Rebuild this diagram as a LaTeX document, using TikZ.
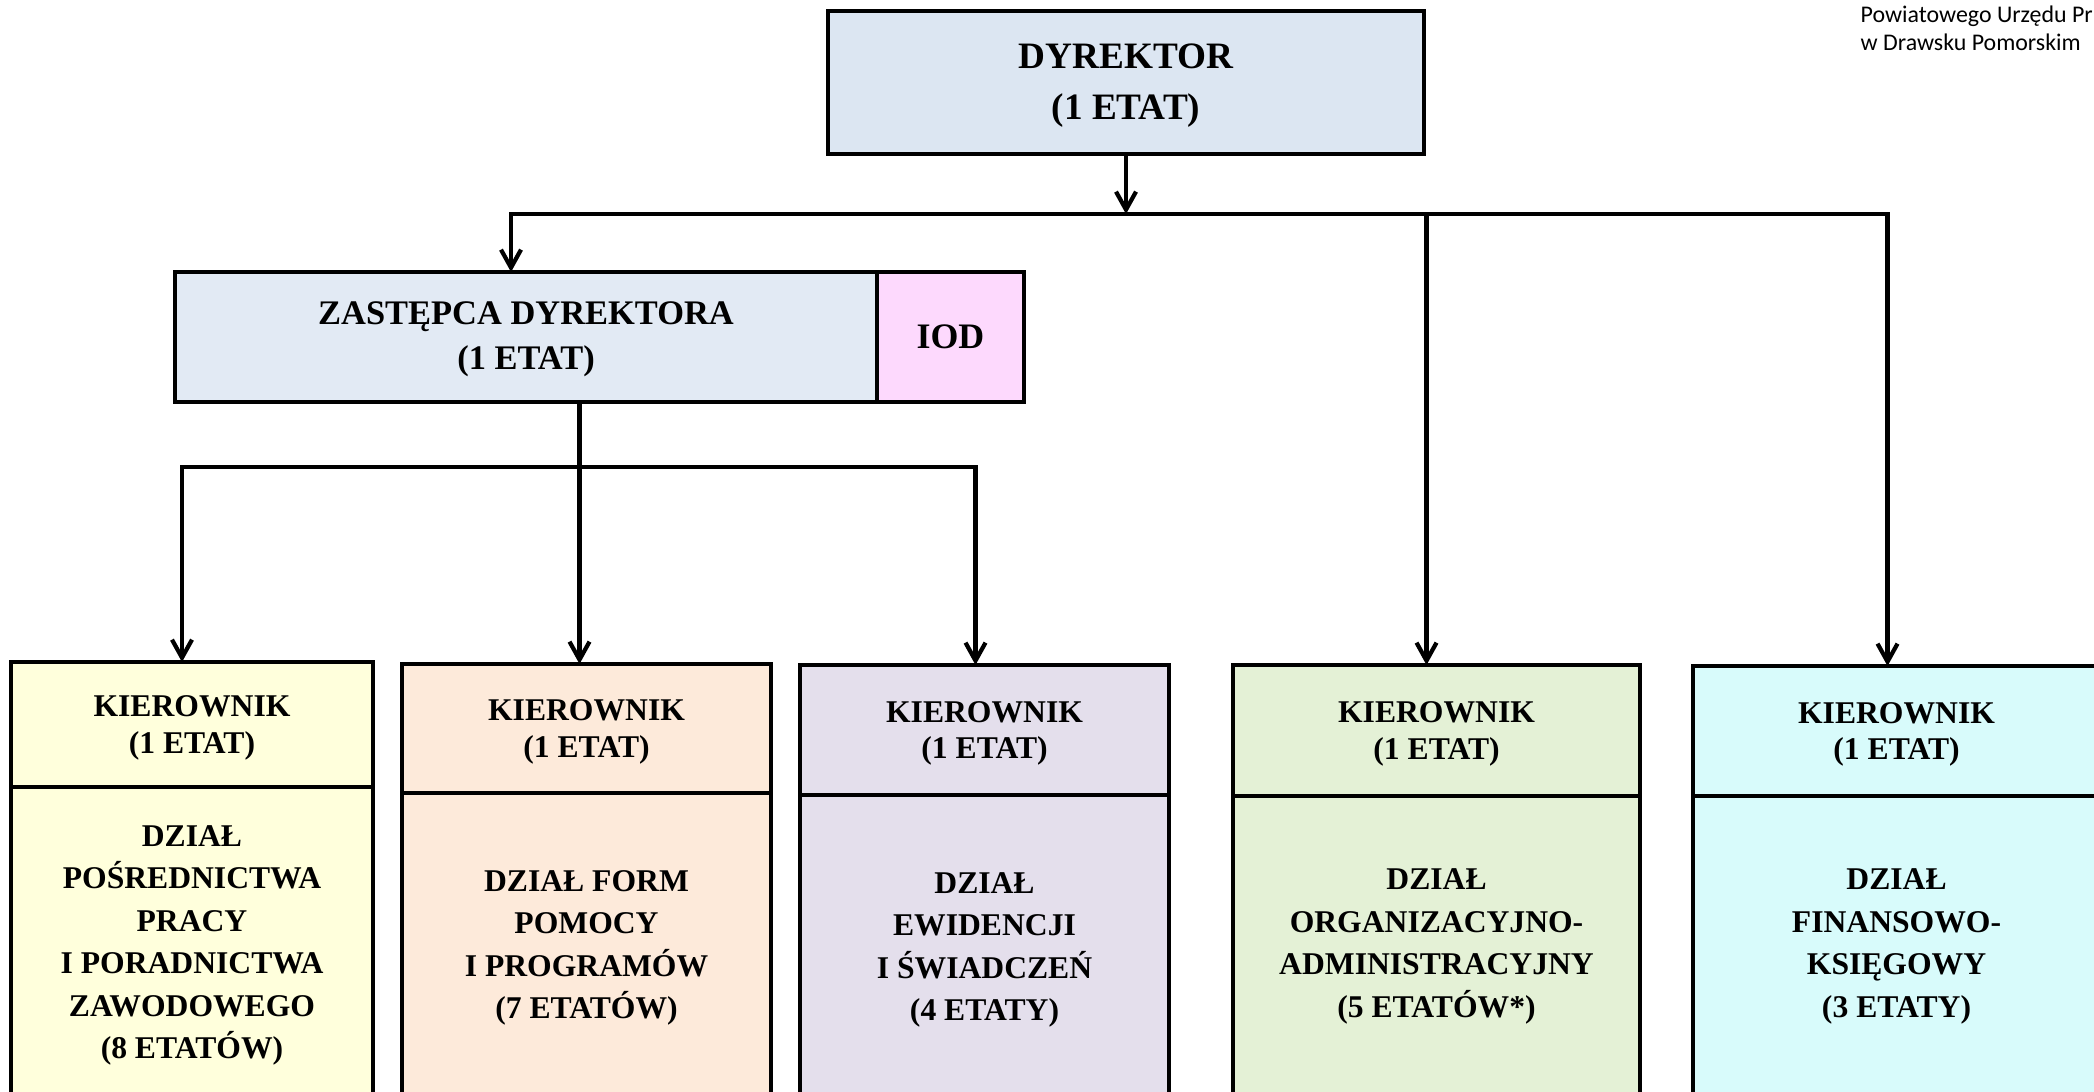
\documentclass[tikz,border=0pt]{standalone}
\usepackage{fontspec}
\setmainfont{Liberation Serif}
\newfontfamily\calibri{Carlito}
\usepackage{xcolor}
\usepackage{tikz}
\usetikzlibrary{arrows.meta, calc, positioning}

\definecolor{dyrkolor}{HTML}{DCE6F2}
\definecolor{zastkolor}{HTML}{E2EAF4}
\definecolor{iodkolor}{HTML}{FDD9FD}
\definecolor{zolty}{HTML}{FFFFDC}
\definecolor{brzoskwinia}{HTML}{FDEADA}
\definecolor{lawenda}{HTML}{E4DFEC}
\definecolor{zielony}{HTML}{E4F1D6}
\definecolor{turkus}{HTML}{D8FBFB}

\tikzstyle{ramka} = [rectangle, draw=black, line width=1.2pt, outer sep=0pt, inner sep=0pt, anchor=north west, align=center]
\tikzstyle{naglowek} = [ramka, text depth=-0.05cm, font=\fontsize{9}{10.5}\selectfont\bfseries]
\tikzstyle{dzial} = [ramka, minimum height=3.1cm, font=\fontsize{9}{12.1}\selectfont\bfseries]
\tikzstyle{strzalka} = [line width=1.2pt, -{Straight Barb[length=1.8mm, width=2mm]}]

\begin{document}
\begin{tikzpicture}
    \useasboundingbox (0,0) rectangle (20.94,-10.91);
    \clip (0,0) rectangle (20.94,-10.91);

    \node (dopisek) [anchor=north west, inner sep=0pt, align=left, font=\calibri\fontsize{6.8}{8}\selectfont] at (18.6,-0.05) {Powiatowego Urzędu Pr\\w Drawsku Pomorskim};

    \node (dyr) [ramka, line width=1.4pt, fill=dyrkolor, minimum width=5.96cm, minimum height=1.43cm, text depth=0.02cm, font=\fontsize{10.6}{14.5}\selectfont\bfseries] at (8.28,-0.11) {DYREKTOR\\(1 ETAT)};
    \node (zast) [ramka, fill=zastkolor, minimum width=7.02cm, minimum height=1.30cm, text depth=0.02cm, font=\fontsize{9.8}{12.8}\selectfont\bfseries] at (1.75,-2.72) {ZASTĘPCA DYREKTORA\\(1 ETAT)};
    \node (iod) [ramka, fill=iodkolor, minimum width=1.47cm, minimum height=1.30cm, font=\fontsize{10.2}{12}\selectfont\bfseries] at (8.77,-2.72) {IOD};

    \node (k1) [naglowek, fill=zolty, minimum width=3.62cm, minimum height=1.25cm] at (0.11,-6.62) {KIEROWNIK\\(1 ETAT)};
    \node (d1) [dzial, fill=zolty, minimum width=3.62cm, text depth=-0.065cm, below=0pt of k1] {DZIAŁ\\POŚREDNICTWA\\PRACY\\I PORADNICTWA\\ZAWODOWEGO\\(8 ETATÓW)};

    \node (k2) [naglowek, fill=brzoskwinia, minimum width=3.69cm, minimum height=1.29cm] at (4.02,-6.64) {KIEROWNIK\\(1 ETAT)};
    \node (d2) [dzial, fill=brzoskwinia, minimum width=3.69cm, below=0pt of k2] {DZIAŁ FORM\\POMOCY\\I PROGRAMÓW\\(7 ETATÓW)};

    \node (k3) [naglowek, fill=lawenda, minimum width=3.69cm, minimum height=1.30cm] at (8.00,-6.65) {KIEROWNIK\\(1 ETAT)};
    \node (d3) [dzial, fill=lawenda, minimum width=3.69cm, below=0pt of k3] {DZIAŁ\\EWIDENCJI\\I ŚWIADCZEŃ\\(4 ETATY)};

    \node (k4) [naglowek, fill=zielony, minimum width=4.07cm, minimum height=1.31cm, text depth=-0.09cm] at (12.33,-6.65) {KIEROWNIK\\(1 ETAT)};
    \node (d4) [dzial, fill=zielony, minimum width=4.07cm, text depth=0.16cm, below=0pt of k4] {DZIAŁ\\ORGANIZACYJNO-\\ADMINISTRACYJNY\\(5 ETATÓW*)};

    \node (k5) [naglowek, fill=turkus, minimum width=4.07cm, minimum height=1.30cm, text depth=-0.09cm] at (16.93,-6.66) {KIEROWNIK\\(1 ETAT)};
    \node (d5) [dzial, fill=turkus, minimum width=4.07cm, text depth=0.16cm, below=0pt of k5] {DZIAŁ\\FINANSOWO-\\KSIĘGOWY\\(3 ETATY)};

    % szyny i punkty wejscia strzalek
    \coordinate (szyna1) at (0,-2.14);
    \coordinate (szyna2) at (0,-4.67);
    \coordinate (wz) at ([xshift=-1.5mm]zast.north);
    \coordinate (w1) at ([xshift=-1mm]k1.north);
    \coordinate (w2) at ([xshift=-0.7mm]k2.north);
    \coordinate (w3) at ([xshift=-0.9mm]k3.north);
    \coordinate (w4) at ([xshift=-1mm]k4.north);
    \coordinate (w5) at ([xshift=-0.9mm]k5.north);

    \draw[strzalka] (dyr.south) -- (dyr.south |- szyna1);
    \draw[strzalka] (w5 |- szyna1) -- (wz |- szyna1) -- (wz);
    \draw[strzalka] (wz |- szyna1) -| (w5);
    \draw[strzalka] (w4 |- szyna1) -- (w4);

    \draw[strzalka] (w3 |- szyna2) -- (w1 |- szyna2) -- (w1);
    \draw[strzalka] (w1 |- szyna2) -| (w3);
    \draw[strzalka] (w2 |- zast.south) -- (w2);
\end{tikzpicture}
\end{document}
